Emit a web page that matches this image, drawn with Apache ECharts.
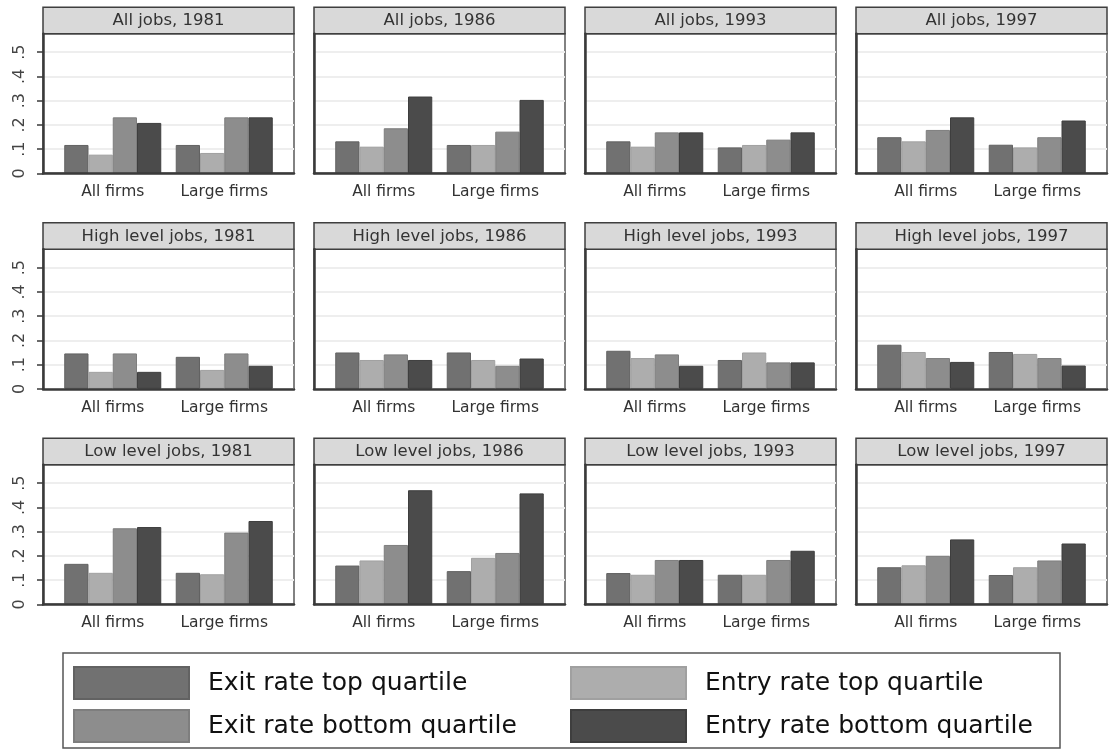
<!DOCTYPE html>
<html>
<head>
<meta charset="utf-8">
<script src="https://cdn.jsdelivr.net/npm/echarts@6/dist/echarts.min.js"></script>
<style>
  html, body { margin: 0; padding: 0; background: #ffffff; }
  #chart { width: 1109px; height: 749px; }
</style>
</head>
<body>
<div id="chart"></div>
<script>
// Panel titles, row by row (job level) and column by column (year)
const panelTitles = [
  'All jobs, 1981', 'All jobs, 1986', 'All jobs, 1993', 'All jobs, 1997',
  'High level jobs, 1981', 'High level jobs, 1986', 'High level jobs, 1993', 'High level jobs, 1997',
  'Low level jobs, 1981', 'Low level jobs, 1986', 'Low level jobs, 1993', 'Low level jobs, 1997'
];
const categories = ['All firms', 'Large firms'];
const seriesNames = [
  'Exit rate top quartile',
  'Entry rate top quartile',
  'Exit rate bottom quartile',
  'Entry rate bottom quartile'
];

// One [All firms, Large firms] pair per panel, in panel order
const exitTop = [
  [0.117, 0.117], [0.132, 0.117], [0.132, 0.107], [0.149, 0.118],
  [0.146, 0.132], [0.150, 0.150], [0.157, 0.119], [0.182, 0.152],
  [0.167, 0.130], [0.160, 0.137], [0.129, 0.122], [0.153, 0.121]
];
const entryTop = [
  [0.077, 0.084], [0.110, 0.117], [0.110, 0.117], [0.132, 0.107],
  [0.070, 0.078], [0.119, 0.119], [0.127, 0.150], [0.152, 0.144],
  [0.130, 0.124], [0.181, 0.192], [0.122, 0.122], [0.161, 0.153]
];
const exitBottom = [
  [0.231, 0.231], [0.186, 0.172], [0.169, 0.139], [0.179, 0.149],
  [0.146, 0.146], [0.142, 0.095], [0.142, 0.109], [0.127, 0.127],
  [0.314, 0.296], [0.245, 0.212], [0.183, 0.183], [0.200, 0.181]
];
const entryBottom = [
  [0.208, 0.231], [0.317, 0.303], [0.169, 0.169], [0.231, 0.218],
  [0.070, 0.095], [0.119, 0.125], [0.095, 0.109], [0.111, 0.096],
  [0.319, 0.344], [0.471, 0.458], [0.183, 0.221], [0.268, 0.251]
];

const yTickValues = [0, 0.1, 0.2, 0.3, 0.4, 0.5];
const yTickLabels = ['0', '.1', '.2', '.3', '.4', '.5'];
const yMax = 0.576;

const seriesValues = [exitTop, entryTop, exitBottom, entryBottom];
const barColors = ['#717171', '#adadad', '#8d8d8d', '#4b4b4b'];
const barEdges = ['#626262', '#a0a0a0', '#7e7e7e', '#3e3e3e'];

const FONT = 'DejaVu Sans';
const COLS = 4;
const panelLeft0 = 43, panelWidth = 251, panelGap = 20;
const headerTop0 = 7.3, rowPitch = 215.5, headerHeight = 26.5, plotHeight = 139.5;
const innerPad = 14;

const grids = [], xAxes = [], yAxes = [], series = [], graphics = [];

panelTitles.forEach((title, p) => {
  const r = Math.floor(p / COLS), c = p % COLS;
  const left = panelLeft0 + c * (panelWidth + panelGap);
  const hTop = headerTop0 + r * rowPitch;
  const plotTop = hTop + headerHeight;

  // Frame grid: border, gridlines, y ticks and the bottom axis line
  grids.push({
    left: left, top: plotTop, width: panelWidth, height: plotHeight,
    show: true, borderColor: '#5a5a5a', borderWidth: 1.5, backgroundColor: '#ffffff'
  });
  const frameIdx = grids.length - 1;
  xAxes.push({
    gridIndex: frameIdx, type: 'value', min: 0, max: 1, z: 5,
    axisLine: { show: true, lineStyle: { color: '#3a3a3a', width: 2.5 } },
    axisTick: { show: false }, axisLabel: { show: false }, splitLine: { show: false }
  });
  yAxes.push({
    gridIndex: frameIdx, type: 'value', min: 0, max: yMax, interval: 0.1,
    axisLine: { show: true, lineStyle: { color: '#3a3a3a', width: 2.5 } },
    axisTick: { show: c === 0, length: 6, customValues: yTickValues,
                lineStyle: { color: '#3a3a3a', width: 1.5 } },
    axisLabel: {
      show: c === 0, customValues: yTickValues, rotate: 90, margin: 15,
      fontSize: 16, fontFamily: FONT, color: '#444',
      formatter: v => {
        const i = yTickValues.findIndex(t => Math.abs(t - v) < 1e-9);
        return i >= 0 ? yTickLabels[i] : '';
      }
    },
    splitLine: { show: true, lineStyle: { color: '#eeeeee', width: 2 } }
  });

  // Data grid: bars and category labels
  grids.push({ left: left + innerPad, top: plotTop, width: panelWidth - 2 * innerPad, height: plotHeight });
  const dataIdx = grids.length - 1;
  xAxes.push({
    gridIndex: dataIdx, type: 'category', data: categories,
    axisLine: { show: false }, axisTick: { show: false },
    axisLabel: { interval: 0, hideOverlap: false, margin: 11, fontSize: 15.5, fontFamily: FONT, color: '#333' }
  });
  yAxes.push({ gridIndex: dataIdx, type: 'value', min: 0, max: yMax, show: false });

  seriesNames.forEach((name, k) => {
    series.push({
      type: 'bar', name: name,
      xAxisIndex: dataIdx, yAxisIndex: dataIdx,
      data: seriesValues[k][p],
      barGap: '0%', barCategoryGap: '13%',
      itemStyle: { color: barColors[k], borderColor: barEdges[k], borderWidth: 1 },
      silent: true, z: 2
    });
  });

  // Header strip with the panel title
  graphics.push({
    type: 'group', x: left, y: hTop,
    children: [
      { type: 'rect', shape: { x: 0, y: 0, width: panelWidth, height: headerHeight },
        style: { fill: '#d9d9d9', stroke: '#3f3f3f', lineWidth: 1.5 } },
      { type: 'text', x: panelWidth / 2, y: headerHeight / 2 + 0.5,
        style: { text: title, fill: '#333', font: '16.5px "DejaVu Sans"',
                 textAlign: 'center', textVerticalAlign: 'middle' } }
    ]
  });
});

// Legend box
graphics.push({
  type: 'rect', shape: { x: 63, y: 653, width: 997, height: 95 },
  style: { fill: 'none', stroke: '#555', lineWidth: 1.5 }
});

const legendCommon = {
  orient: 'vertical', top: 666, padding: 0,
  itemWidth: 115, itemHeight: 32, itemGap: 9, icon: 'rect',
  selectedMode: false,
  textStyle: { fontFamily: FONT, fontSize: 25, color: '#111', padding: [0, 0, 0, 14] }
};

const chart = echarts.init(document.getElementById('chart'), null, { renderer: 'canvas' });
chart.setOption({
  backgroundColor: '#ffffff',
  animation: false,
  grid: grids,
  xAxis: xAxes,
  yAxis: yAxes,
  series: series,
  legend: [
    Object.assign({}, legendCommon, { left: 73, data: [seriesNames[0], seriesNames[2]] }),
    Object.assign({}, legendCommon, { left: 570, data: [seriesNames[1], seriesNames[3]] })
  ],
  graphic: graphics
});
</script>
</body>
</html>
